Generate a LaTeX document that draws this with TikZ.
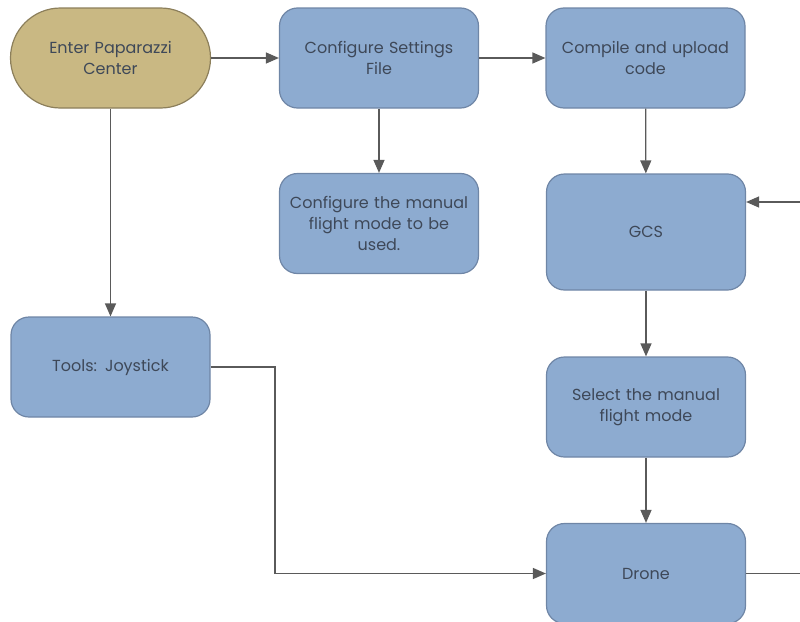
\documentclass[tikz,border=0pt]{standalone}
\usepackage{fontspec}
\setmainfont{Poppins}
\usetikzlibrary{arrows.meta}
\definecolor{boxfill}{HTML}{8DABD0}
\definecolor{boxline}{HTML}{6F86A6}
\definecolor{tanfill}{HTML}{C9B883}
\definecolor{tanline}{HTML}{8C7F5B}
\definecolor{txt}{HTML}{3E4858}
\definecolor{conn}{HTML}{5A5A5A}
\tikzset{
  stepbox/.style={draw=boxline, line width=1.2pt, fill=boxfill, rounded corners=18pt,
    minimum width=199pt, minimum height=100pt, inner sep=0pt, align=center,
    text=txt, font=\fontsize{16}{21}\selectfont, text width=190pt},
  startbox/.style={draw=tanline, line width=1.2pt, fill=tanfill, rounded corners=50pt,
    minimum width=200pt, minimum height=100pt, inner sep=0pt, align=center,
    text=txt, font=\fontsize{16}{21}\selectfont, text width=190pt},
  conline/.style={draw=conn, line width=1.3pt},
  arr/.style={conline, -{Triangle[length=13pt,width=11pt]}}
}
\begin{document}
\begin{tikzpicture}[x=1pt,y=-1pt]
\useasboundingbox (0,0) rectangle (800,621);
\begin{scope}
\clip (0,0) rectangle (800,621);
\node[startbox] (enter) at (110.5,58) {Enter Paparazzi\\Center};
\node[stepbox] (cfg) at (379,58) {Configure Settings\\File};
\node[stepbox] (comp) at (645.5,58) {Compile and upload\\code};
\node[stepbox] (man) at (379,223.5) {Configure the manual\\flight mode to be\\used.};
\node[stepbox, minimum height=116pt] (gcs) at (646,232) {GCS};
\node[stepbox] (tools) at (110.5,367) {Tools: Joystick};
\node[stepbox] (sel) at (646,407) {Select the manual\\flight mode};
\node[stepbox] (drone) at (646,573.5) {Drone};
\coordinate (inR) at (800,202);
\coordinate (outR) at (800,573.5);
\coordinate (bend) at (275,367);
\draw[arr] (enter) -- (cfg);
\draw[arr] (cfg) -- (comp);
\draw[arr] (cfg) -- (man);
\draw[arr] (comp) -- (gcs);
\draw[arr] (enter) -- (tools);
\draw[arr] (gcs) -- (sel);
\draw[arr] (sel) -- (drone);
\draw[arr] (tools.east) -- (bend) |- (drone.west);
\draw[conline] (drone.east) -- (outR);
\draw[arr] (inR) -- (gcs.east |- inR);
\end{scope}
\end{tikzpicture}
\end{document}
